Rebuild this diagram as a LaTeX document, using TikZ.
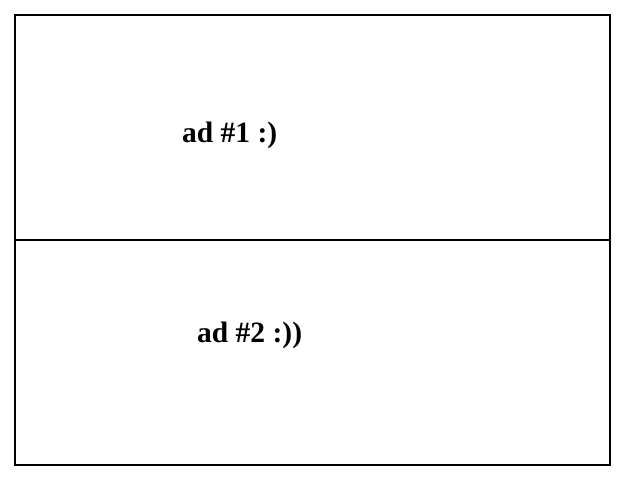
\documentclass[tikz,border=0pt]{standalone}
\usepackage{fontspec}
\setmainfont{Liberation Serif}
\begin{document}
\begin{tikzpicture}[x=1pt,y=-1pt,
  frame/.style={draw=black,line width=2pt},
  adlabel/.style={font=\fontsize{29.5}{34}\selectfont\bfseries,inner sep=0pt,anchor=base west}]
\useasboundingbox (0,0) rectangle (624,478);
\fill[white] (0,0) rectangle (624,478);
\coordinate (tl) at (15,15);
\coordinate (br) at (610,465);
\coordinate (ml) at (15,240);
\coordinate (mr) at (610,240);
\draw[frame] (tl) rectangle (br);
\draw[frame] (ml) -- (mr);
\node[adlabel] (ad1) at (182,143) {ad \#1 :)};
\node[adlabel] (ad2) at (197,342.5) {ad \#2 :))};
\end{tikzpicture}
\end{document}
